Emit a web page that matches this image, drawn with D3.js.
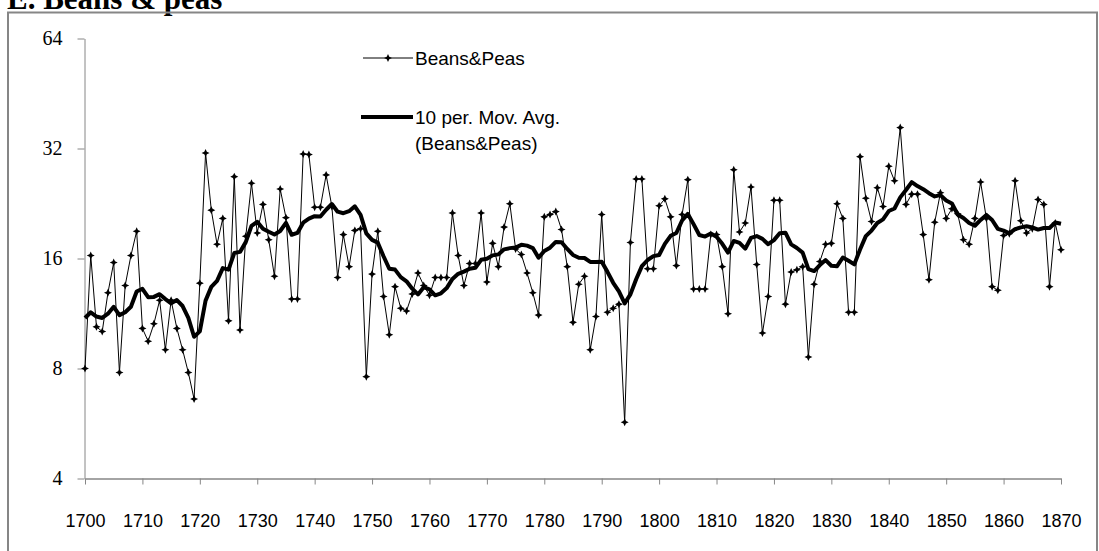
<!DOCTYPE html>
<html><head><meta charset="utf-8">
<script src="https://cdn.jsdelivr.net/npm/d3@7"></script>
<style>body{margin:0;background:#fff} svg{display:block}</style>
</head><body>
<svg id="c" width="1099" height="551"></svg>
<script>
// ---- data ----
const firstYear = 1700;
const beansPeas = [
  8.0,16.3,10.4,10.1,12.9,15.6,7.8,13.5,16.3,19.0,
  10.3,9.5,10.6,12.3,9.0,12.3,10.3,9.0,7.8,6.6,
  13.7,31.1,21.7,17.5,20.6,10.8,26.8,10.2,18.4,25.7,
  18.8,22.5,18.0,14.3,24.8,20.7,12.4,12.4,30.9,30.8,
  22.1,22.1,27.1,22.2,14.2,18.6,15.2,19.1,19.3,7.6,
  14.5,19.0,12.6,9.9,13.4,11.7,11.5,12.8,14.6,13.5,
  12.7,14.2,14.2,14.2,21.3,16.3,13.5,15.5,15.5,21.3,
  13.8,17.6,15.2,19.5,22.6,17.0,16.4,14.6,12.9,11.2,
  20.8,21.1,21.5,19.2,15.2,10.7,13.6,14.3,9.0,11.1,
  21.1,11.4,11.7,12.0,5.7,17.7,26.4,26.4,15.0,15.0,
  22.3,23.3,20.8,15.3,21.1,26.3,13.2,13.2,13.2,18.6,
  18.6,15.2,11.3,28.0,18.9,20.0,25.1,15.4,10.0,12.6,
  23.1,23.1,12.0,14.7,14.9,15.2,8.6,13.6,15.7,17.5,
  17.6,22.6,20.6,11.4,11.4,30.4,23.4,20.2,25.0,22.2,
  28.6,26.1,36.5,22.5,24.0,24.0,18.6,14.0,20.1,24.2,
  20.6,21.9,21.2,18.0,17.5,20.6,25.9,20.6,13.4,13.1,
  18.5,18.7,26.1,20.3,18.8,19.3,23.2,22.5,13.4,20.0,
  16.9
];
const movAvg = [
  11.0,11.4,11.1,11.0,11.3,11.8,11.2,11.4,11.8,12.99,
  13.22,12.54,12.56,12.78,12.39,12.06,12.31,11.86,11.01,9.77,
  10.11,12.27,13.38,13.90,15.06,14.91,16.56,16.68,17.74,19.65,
  20.16,19.30,18.93,18.61,19.03,20.02,18.58,18.80,20.05,20.56,
  20.89,20.85,21.76,22.55,21.49,21.28,21.56,22.23,21.07,18.75,
  17.99,17.68,16.23,15.00,14.92,14.23,13.86,13.23,12.76,13.35,
  13.17,12.69,12.85,13.28,14.07,14.53,14.73,15.00,15.09,15.87,
  15.98,16.32,16.42,16.95,17.08,17.15,17.44,17.35,17.09,16.08,
  16.78,17.13,17.76,17.73,16.99,16.36,16.08,16.05,15.66,15.65,
  15.68,14.71,13.73,13.01,12.06,12.76,14.04,15.25,15.85,16.24,
  16.36,17.55,18.46,18.79,20.33,21.19,19.87,18.55,18.37,18.73,
  18.36,17.55,16.60,17.87,17.65,17.02,18.21,18.43,18.11,17.51,
  17.96,18.75,18.82,17.49,17.09,16.61,14.96,14.78,15.35,15.84,
  15.29,15.24,16.10,15.77,15.42,16.94,18.42,19.08,20.01,20.48,
  21.58,21.93,23.52,24.63,25.89,25.25,24.77,24.15,23.66,23.86,
  23.06,22.64,21.11,20.66,20.01,19.67,20.40,21.06,20.39,19.28,
  19.07,18.75,19.24,19.47,19.60,19.47,19.20,19.39,19.39,20.08,
  19.92
];
const xTickYears = [1700,1710,1720,1730,1740,1750,1760,1770,1780,1790,1800,1810,1820,1830,1840,1850,1860,1870];
const yTickValues = [4, 8, 16, 32, 64];
const titleText = "E. Beans & peas";
const seriesName = "Beans&Peas";
const avgNameLines = ["10 per. Mov. Avg.", "(Beans&Peas)"];

// ---- drawing ----
const svg = d3.select("#c");
const axisColor = "#868686";
const x = d3.scaleLinear().domain([1700, 1870]).range([85, 1061]);
const y = d3.scaleLog().base(2).domain([4, 64]).range([478.5, 38.5]);

svg.append("rect").attr("width", 1099).attr("height", 551).attr("fill", "#fff");

// title (partly cut off at the top, as in the reference)
svg.append("text").attr("x", 7).attr("y", 9)
  .attr("font-family", "'Liberation Serif', 'Times New Roman', serif")
  .attr("font-weight", "bold").attr("font-size", 31).attr("fill", "#000")
  .text(titleText);

// chart frame
svg.append("rect").attr("x", 8).attr("y", 12.5).attr("width", 1089).attr("height", 600)
  .attr("fill", "none").attr("stroke", axisColor).attr("stroke-width", 2);

// y axis
const yAxis = d3.axisLeft(y).tickValues(yTickValues).tickFormat(d3.format("d"))
  .tickSizeInner(7).tickSizeOuter(0).tickPadding(15);
const gy = svg.append("g").attr("transform", "translate(84.5,0)").call(yAxis);
gy.select(".domain").attr("stroke", axisColor);
gy.selectAll(".tick line").attr("stroke", axisColor);
gy.selectAll(".tick text").attr("font-family", "'Liberation Serif', serif")
  .attr("font-size", 20).attr("fill", "#000");

// x axis
const xAxis = d3.axisBottom(x).tickValues(xTickYears).tickFormat(d3.format("d"))
  .tickSizeInner(6).tickSizeOuter(0).tickPadding(30);
const gx = svg.append("g").attr("transform", "translate(0,478.5)").call(xAxis);
gx.select(".domain").attr("stroke", axisColor).attr("stroke-width", 1.5);
gx.selectAll(".tick line").attr("stroke", axisColor);
gx.selectAll(".tick text").attr("font-family", "'Liberation Sans', Arial, sans-serif")
  .attr("font-size", 18).attr("fill", "#000").attr("dy", "0.35em").attr("y", 42);

const years = beansPeas.map((d, i) => firstYear + i);

// series line
const line = d3.line().x((d, i) => x(years[i])).y(d => y(d));
svg.append("path").datum(beansPeas).attr("d", line)
  .attr("fill", "none").attr("stroke", "#000").attr("stroke-width", 1);

// moving average
svg.append("path").datum(movAvg).attr("d", line)
  .attr("fill", "none").attr("stroke", "#000").attr("stroke-width", 4)
  .attr("stroke-linejoin", "round");

// four-point star markers
const starType = {
  draw(ctx, size) {
    const r = Math.sqrt(size) / 2, q = r * 0.32;
    ctx.moveTo(0, -r); ctx.lineTo(q, -q); ctx.lineTo(r, 0); ctx.lineTo(q, q);
    ctx.lineTo(0, r); ctx.lineTo(-q, q); ctx.lineTo(-r, 0); ctx.lineTo(-q, -q);
    ctx.closePath();
  }
};
const star = d3.symbol().type(starType).size(64);
svg.append("g").selectAll("path").data(beansPeas).join("path")
  .attr("transform", (d, i) => `translate(${x(years[i])},${y(d)})`)
  .attr("d", star).attr("fill", "#000");

// legend
const lg = svg.append("g").attr("font-family", "'Liberation Sans', Arial, sans-serif")
  .attr("font-size", 19).attr("fill", "#000");
lg.append("line").attr("x1", 363).attr("x2", 413).attr("y1", 58).attr("y2", 58)
  .attr("stroke", "#000").attr("stroke-width", 1);
lg.append("path").attr("transform", "translate(388,58)").attr("d", star).attr("fill", "#000");
lg.append("text").attr("x", 415).attr("y", 58).attr("dominant-baseline", "central").text(seriesName);
lg.append("line").attr("x1", 361).attr("x2", 413).attr("y1", 117).attr("y2", 117)
  .attr("stroke", "#000").attr("stroke-width", 4);
lg.selectAll("text.avg").data(avgNameLines).join("text").attr("class", "avg")
  .attr("x", 415).attr("y", (d, i) => 117 + i * 26).attr("dominant-baseline", "central").text(d => d);
</script>
</body></html>
